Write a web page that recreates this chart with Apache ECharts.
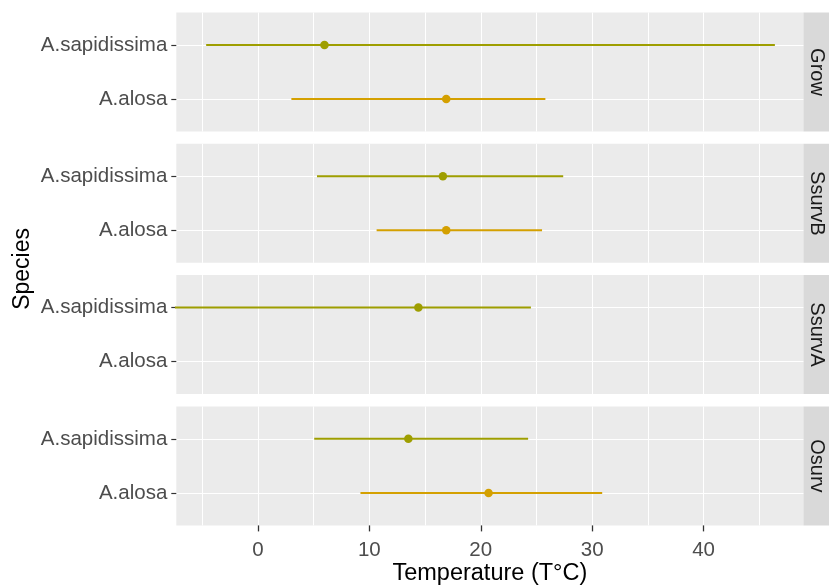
<!DOCTYPE html>
<html>
<head>
<meta charset="utf-8">
<script src="https://cdn.jsdelivr.net/npm/echarts@6/dist/echarts.min.js"></script>
<style>html,body{margin:0;padding:0;background:#fff}#c{width:829px;height:585px}</style>
</head>
<body>
<div id="c"></div>
<script>
const panels = ['Grow', 'SsurvB', 'SsurvA', 'Osurv'];
const species = ['A.alosa', 'A.sapidissima'];
const sapMid  = [5.97, 16.6, 14.4, 13.5];
const sapLow  = [-4.65, 5.3, -10, 5.05];
const sapHigh = [46.4, 27.4, 24.5, 24.25];
const alosaMid  = [16.9, 16.9, null, 20.7];
const alosaLow  = [3.0, 10.65, null, 9.2];
const alosaHigh = [25.8, 25.5, null, 30.9];
const xMajor = [0, 10, 20, 30, 40];
const xAll = [-5, 0, 5, 10, 15, 20, 25, 30, 35, 40, 45];
const xMin = -7.33, xMax = 48.96;

const FONT = 'Liberation Sans, Arial, sans-serif';
const colSap = '#9E9E00', colAlosa = '#D4A000';
const gridLeft = 176.3, gridRight = 25.6, panelH = 119, firstTop = 12.5, step = 131.3;

const chart = echarts.init(document.getElementById('c'), null, {renderer: 'canvas'});
const grids = [], xAxes = [], yAxes = [], series = [], graphics = [];

panels.forEach((p, i) => {
  const top = firstTop + i * step;
  const last = i === panels.length - 1;
  grids.push({left: gridLeft, right: gridRight, top: top, height: panelH,
    show: true, backgroundColor: '#EBEBEB', borderWidth: 0,
    containLabel: false, outerBoundsMode: 'none'});
  xAxes.push({type: 'value', gridIndex: i, min: xMin, max: xMax, position: 'bottom',
    axisLine: {show: false, onZero: false},
    axisTick: {show: last, length: 6, customValues: xMajor, lineStyle: {color: '#333333', width: 1.3}},
    axisLabel: {show: last, customValues: xMajor, color: '#4D4D4D', fontSize: 20.5, fontFamily: FONT, margin: 14},
    splitLine: {show: false},
    name: last ? 'Temperature (T°C)' : '', nameLocation: 'middle', nameGap: 33,
    nameTextStyle: {color: '#000', fontSize: 23.5, fontFamily: FONT}});
  xAxes.push({type: 'value', gridIndex: i, min: xMin, max: xMax, position: 'bottom',
    axisLine: {show: false, onZero: false}, axisLabel: {show: false},
    axisTick: {show: false, customValues: xAll},
    splitLine: {show: true, lineStyle: {color: '#FFFFFF', width: 1.1}}});
  yAxes.push({type: 'value', gridIndex: i, min: 0.4, max: 2.6, position: 'left',
    axisLine: {show: false, onZero: false},
    axisTick: {show: true, length: 5, customValues: [1, 2], lineStyle: {color: '#333333', width: 1.2}},
    axisLabel: {customValues: [1, 2], color: '#4D4D4D', fontSize: 20.5, fontFamily: FONT, margin: 9,
      formatter: v => species[Math.round(v) - 1]},
    splitLine: {show: true, lineStyle: {color: '#FFFFFF', width: 1.1}}});

  const xi = i * 2;
  const sets = [
    {lo: sapLow[i], mid: sapMid[i], hi: sapHigh[i], y: 2, c: colSap},
    {lo: alosaLow[i], mid: alosaMid[i], hi: alosaHigh[i], y: 1, c: colAlosa}
  ];
  sets.forEach(s => {
    if (s.mid == null) return;
    series.push({type: 'line', xAxisIndex: xi, yAxisIndex: i, data: [[s.lo, s.y], [s.hi, s.y]],
      symbol: 'none', clip: true, lineStyle: {color: s.c, width: 2}, silent: true, animation: false});
    series.push({type: 'scatter', xAxisIndex: xi, yAxisIndex: i, data: [[s.mid, s.y]],
      symbolSize: 8.5, itemStyle: {color: s.c, opacity: 1}, silent: true, animation: false});
  });

  graphics.push({type: 'rect', shape: {x: 829 - gridRight, y: top, width: gridRight + 2, height: panelH},
    style: {fill: '#D9D9D9'}, silent: true});
  graphics.push({type: 'text', x: 829 - gridRight / 2, y: top + panelH / 2, rotation: -Math.PI / 2,
    style: {text: p, fill: '#1A1A1A', font: '20px ' + FONT, align: 'center', verticalAlign: 'middle'}, silent: true});
});

graphics.push({type: 'text', x: 23, y: firstTop + (3 * step + panelH) / 2, rotation: Math.PI / 2,
  style: {text: 'Species', fill: '#000', font: '23px ' + FONT, align: 'center', verticalAlign: 'middle'}, silent: true});

chart.setOption({
  animation: false,
  backgroundColor: '#FFFFFF',
  grid: grids, xAxis: xAxes, yAxis: yAxes, series: series, graphic: graphics
});
</script>
</body>
</html>
